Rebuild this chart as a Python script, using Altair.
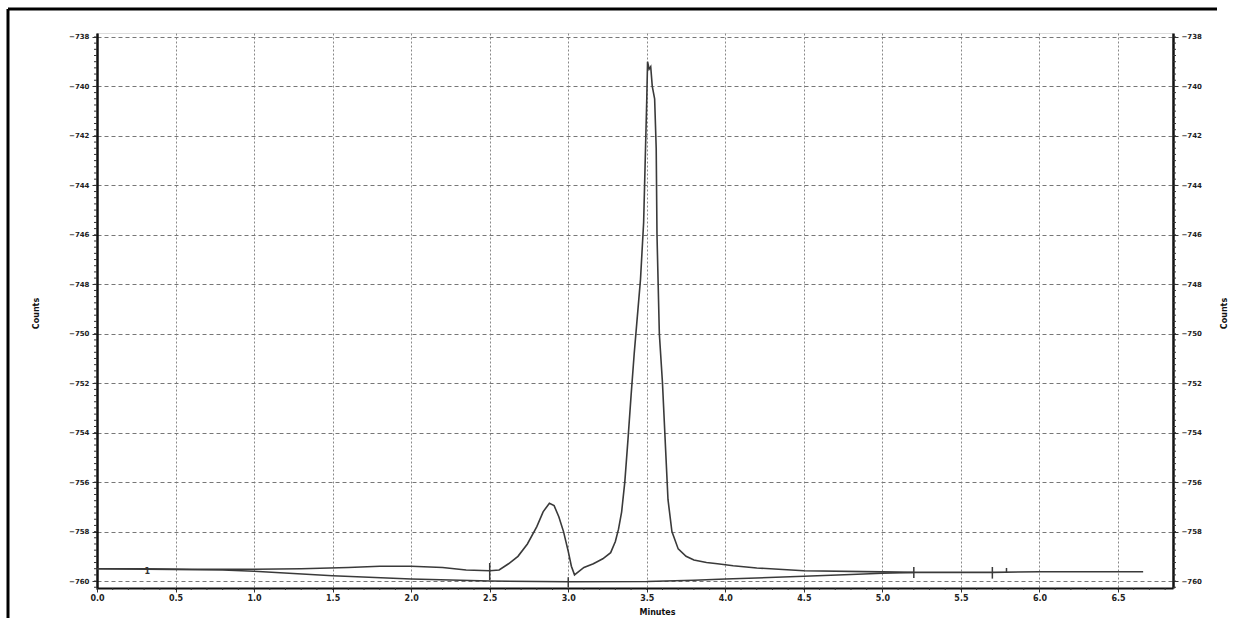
import altair as alt
import pandas as pd

# ---- data ----
trace_t = [0.0, 0.3, 0.6, 1.0, 1.3, 1.6, 1.8, 2.0, 2.2, 2.35, 2.5, 2.56, 2.62, 2.68, 2.74, 2.80,
           2.84, 2.88, 2.91, 2.94, 2.97, 3.00, 3.02, 3.04, 3.06, 3.10, 3.16, 3.22, 3.27, 3.30,
           3.32, 3.34, 3.36, 3.38, 3.40, 3.42, 3.44, 3.46, 3.48, 3.49, 3.50, 3.505, 3.515, 3.525,
           3.535, 3.55, 3.56, 3.565, 3.58, 3.60, 3.62, 3.635, 3.66, 3.70, 3.75, 3.80, 3.88, 3.95,
           4.05, 4.2, 4.5, 5.0, 5.2, 5.7, 6.0, 6.66]
trace_v = [-759.5, -759.5, -759.52, -759.52, -759.5, -759.45, -759.4, -759.4, -759.45, -759.55,
           -759.58, -759.55, -759.3, -759.0, -758.5, -757.8, -757.2, -756.85, -756.95, -757.4,
           -758.0, -758.8, -759.4, -759.75, -759.65, -759.45, -759.3, -759.1, -758.85, -758.4,
           -757.9, -757.2, -756.0, -754.3, -752.5, -750.8, -749.3, -747.8, -745.5, -743.0,
           -740.5, -739.0, -739.3, -739.2, -740.0, -740.5, -742.5, -746.0, -750.0, -752.0,
           -754.7, -756.7, -758.0, -758.7, -759.0, -759.15, -759.25, -759.3, -759.38, -759.47,
           -759.58, -759.63, -759.65, -759.65, -759.62, -759.62]

base_t = [0.0, 0.8, 1.0, 1.5, 2.0, 2.5, 3.0, 3.5, 3.8, 4.0, 4.5, 4.8, 5.0, 5.2]
base_v = [-759.5, -759.55, -759.6, -759.78, -759.92, -760.0, -760.03, -760.02, -759.97,
          -759.92, -759.8, -759.73, -759.68, -759.65]

mark_t = [2.5, 3.0, 5.2, 5.7, 5.79]
mark_lo = [-759.96, -760.25, -759.88, -759.9, -759.67]
mark_hi = [-759.27, -759.85, -759.43, -759.43, -759.47]

y_ticks = [-738, -740, -742, -744, -746, -748, -750, -752, -754, -756, -758, -760]
x_ticks = [0.0, 0.5, 1.0, 1.5, 2.0, 2.5, 3.0, 3.5, 4.0, 4.5, 5.0, 5.5, 6.0, 6.5]
y_minor_ticks = [-760.25 + 0.25 * i for i in range(90) if -760.25 + 0.25 * i <= -738.0]
x_minor_ticks = [round(0.1 * i, 1) for i in range(69)]

peak_label_t = [0.32]
peak_label_v = [-759.62]
peak_label = ["1"]

# ---- tables ----
trace_df = pd.DataFrame({"t": trace_t, "v": trace_v})
base_df = pd.DataFrame({"t": base_t, "v": base_v})
mark_df = pd.DataFrame({"t": mark_t, "lo": mark_lo, "hi": mark_hi})
lab_df = pd.DataFrame({"t": peak_label_t, "v": peak_label_v, "s": peak_label})
ymin_df = pd.DataFrame({"v": y_minor_ticks})
xmin_df = pd.DataFrame({"t": x_minor_ticks})

W, H = 1076, 555
XDOM = [0, 6.85]
YDOM = [-760.28, -737.84]

FONT = "DejaVu Sans"
xscale = alt.Scale(domain=XDOM, nice=False, zero=False)
yscale = alt.Scale(domain=YDOM, nice=False, zero=False)

xaxis = alt.Axis(
    values=x_ticks, format=".1f", labelOverlap=False,
    title="Minutes", titleFontSize=8, titleFontWeight="bold", titleFont=FONT,
    titleX=560, titleY=20, titleColor="#111",
    labelFontSize=8, labelFontWeight="bold", labelFont=FONT, labelColor="#222",
    labelPadding=2, labelFlush=False,
    tickSize=4, tickColor="#333",
    grid=True, gridColor="#888", gridDash=[2, 2], gridWidth=1,
    domainColor="#111", domainWidth=2,
)

def yaxis(orient, title_x, grid):
    return alt.Axis(
        orient=orient, values=y_ticks, format="d", labelOverlap=False,
        title="Counts", titleAngle=270, titleFontSize=8, titleFontWeight="bold",
        titleFont=FONT, titleX=title_x, titleY=280, titleColor="#111",
        labelFontSize=7, labelFontWeight="bold", labelFont=FONT, labelColor="#222",
        labelPadding=3, tickSize=5, tickColor="#333", tickWidth=1,
        grid=grid, gridColor="#777", gridDash=[4, 3], gridWidth=1,
        domainColor="#111", domainWidth=2.5,
    )

LINE = "#3a3a3a"

trace = alt.Chart(trace_df).mark_line(color=LINE, strokeWidth=1.6).encode(
    x=alt.X("t:Q", scale=xscale, axis=xaxis),
    y=alt.Y("v:Q", scale=yscale, axis=yaxis("left", -57, True)),
)

base = alt.Chart(base_df).mark_line(color=LINE, strokeWidth=1.5).encode(
    x=alt.X("t:Q", scale=xscale, axis=xaxis),
    y=alt.Y("v:Q", scale=yscale, axis=yaxis("right", 55, False)),
)

marks = alt.Chart(mark_df).mark_rule(color=LINE, strokeWidth=1.5, clip=True).encode(
    x=alt.X("t:Q", scale=xscale, axis=xaxis),
    y=alt.Y("lo:Q", scale=yscale, axis=None),
    y2="hi:Q",
)

label = alt.Chart(lab_df).mark_text(fontSize=8, fontWeight="bold", font=FONT, color="#333").encode(
    x=alt.X("t:Q", scale=xscale, axis=xaxis),
    y=alt.Y("v:Q", scale=yscale, axis=None),
    text="s:N",
)

# minor ticks along the left / right axes and the bottom axis
ymin_left = alt.Chart(ymin_df).mark_rule(color="#333", strokeWidth=1).encode(
    x=alt.value(-3), x2=alt.value(0), y=alt.Y("v:Q", scale=yscale, axis=None))
ymin_right = alt.Chart(ymin_df).mark_rule(color="#333", strokeWidth=1).encode(
    x=alt.value(W), x2=alt.value(W + 3), y=alt.Y("v:Q", scale=yscale, axis=None))
xmin_bot = alt.Chart(xmin_df).mark_rule(color="#333", strokeWidth=1).encode(
    x=alt.X("t:Q", scale=xscale, axis=xaxis), y=alt.value(H), y2=alt.value(H + 2))

frame_df = pd.DataFrame({"a": [0]})
frame_top = alt.Chart(frame_df).mark_rule(color="#000", strokeWidth=3).encode(
    x=alt.value(-89), x2=alt.value(1120), y=alt.value(-24))
frame_left = alt.Chart(frame_df).mark_rule(color="#000", strokeWidth=3).encode(
    x=alt.value(-89), y=alt.value(-24), y2=alt.value(H + 40))

chart = alt.layer(trace, base, marks, label, ymin_left, ymin_right, xmin_bot,
                  frame_top, frame_left).resolve_scale(
    y="shared", x="shared"
).resolve_axis(y="independent").properties(
    width=W, height=H,
    autosize=alt.AutoSizeParams(type="none"),
    padding={"left": 97, "top": 33, "right": 1233 - 97 - W, "bottom": 618 - 33 - H},
).configure_view(stroke="#111", strokeWidth=1.5).configure(background="white")

chart.save("out.html", embed_options={"renderer": "svg", "actions": False})
